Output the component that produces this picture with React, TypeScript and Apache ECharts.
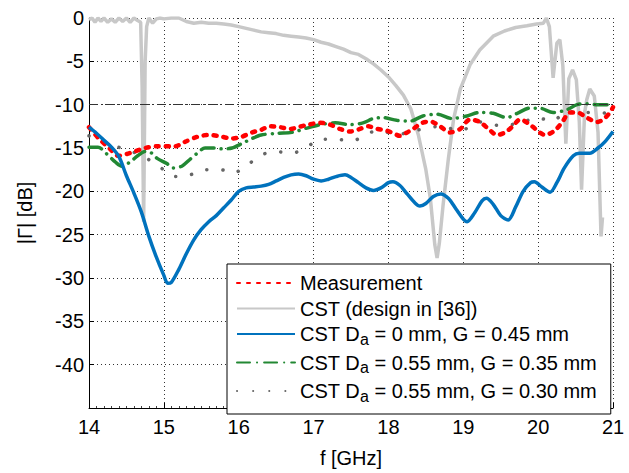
import React, { useEffect, useRef } from "react";
import * as echarts from "echarts";

const xTicks = [14, 15, 16, 17, 18, 19, 20, 21];
const yTicks = [0, -5, -10, -15, -20, -25, -30, -35, -40, -45];
const refLevel = -10;

const seriesNames = [
  "Measurement",
  "CST (design in [36])",
  "CST Da = 0 mm, G = 0.45 mm",
  "CST Da = 0.55 mm, G = 0.35 mm",
  "CST Da = 0.55 mm, G = 0.30 mm",
];

const measurement: [number, number][] = [
  [14.0, -12.6], [14.12, -13.8], [14.28, -15.1], [14.39, -15.9], [14.5, -15.7], [14.61, -15.4],
  [14.75, -15.0], [14.91, -14.8], [15.15, -14.8], [15.28, -14.3], [15.45, -13.7], [15.59, -13.5],
  [15.72, -13.6], [15.91, -13.9], [16.04, -13.7], [16.18, -13.2], [16.3, -12.9], [16.42, -12.5],
  [16.55, -12.6], [16.69, -12.8], [16.79, -12.6], [16.93, -12.3], [17.09, -12.1], [17.22, -12.3],
  [17.35, -12.8], [17.49, -13.1], [17.62, -12.8], [17.73, -12.5], [17.85, -12.8], [17.98, -13.0],
  [18.09, -13.4], [18.15, -13.6], [18.25, -13.2], [18.33, -12.8], [18.45, -12.1], [18.56, -11.95],
  [18.69, -12.5], [18.82, -13.2], [18.96, -12.8], [19.09, -11.7], [19.22, -12.0], [19.35, -12.9],
  [19.45, -13.5], [19.56, -13.2], [19.66, -12.5], [19.76, -11.7], [19.89, -12.3], [20.02, -13.2],
  [20.09, -13.5], [20.22, -13.0], [20.33, -11.9], [20.42, -10.9], [20.52, -10.9], [20.65, -11.5],
  [20.79, -12.0], [20.87, -11.7], [20.95, -11.0], [21.0, -10.3],
];

const cstDesign: [number, number][] = [
  [14.0, -0.2], [14.04, 0], [14.08, -0.5], [14.12, 0], [14.16, -0.4], [14.2, 0], [14.25, -0.5],
  [14.3, -0.1], [14.35, -0.5], [14.4, 0], [14.45, -0.4], [14.5, 0], [14.55, -0.5], [14.6, 0],
  [14.65, -0.3], [14.69, -0.5], [14.71, -8], [14.73, -23.5], [14.75, -5], [14.77, -1], [14.8, 0],
  [14.85, -0.6], [14.9, -0.1], [14.95, 0], [15.0, -0.1], [15.1, 0], [15.2, 0], [15.3, -0.4],
  [15.4, -0.6], [15.5, -0.5], [15.6, -0.6], [15.7, -0.6], [15.8, -0.7], [15.9, -0.8], [16.0, -1.0],
  [16.1, -1.2], [16.2, -1.4], [16.3, -1.6], [16.4, -1.7], [16.5, -1.8], [16.6, -2.0], [16.7, -2.1],
  [16.8, -2.2], [16.9, -2.3], [17.0, -2.5], [17.1, -2.8], [17.2, -3.0], [17.3, -3.3], [17.4, -3.6],
  [17.5, -4.0], [17.6, -4.2], [17.7, -4.7], [17.8, -5.3], [17.9, -6.0], [18.0, -6.8], [18.1, -7.8],
  [18.2, -8.9], [18.3, -10.5], [18.4, -13.5], [18.5, -17.5], [18.56, -20.8], [18.62, -26.2],
  [18.65, -27.7], [18.68, -26.0], [18.73, -21.6], [18.8, -16.3], [18.87, -11.7], [18.96, -8.2],
  [19.09, -5.4], [19.22, -3.7], [19.4, -2.1], [19.55, -1.5], [19.7, -1.1], [19.85, -0.9],
  [19.98, -0.7], [20.07, -0.6], [20.11, 0], [20.15, -1.0], [20.2, -6.9], [20.25, -2.9],
  [20.29, -2.5], [20.33, -5.5], [20.37, -14.5], [20.41, -7.0], [20.46, -6.0], [20.51, -7.1],
  [20.55, -12.0], [20.58, -19.8], [20.62, -11.0], [20.65, -9.4], [20.69, -8.2], [20.75, -9.0],
  [20.8, -13.2], [20.84, -25.2], [20.86, -23.0],
];

const cstDa0: [number, number][] = [
  [14.0, -12.6], [14.1, -13.3], [14.2, -14.1], [14.3, -14.9], [14.4, -16.0], [14.5, -18.2],
  [14.6, -20.2], [14.7, -22.4], [14.8, -25.2], [14.9, -27.6], [15.0, -29.7], [15.05, -30.6],
  [15.1, -30.5], [15.2, -29.0], [15.3, -27.2], [15.4, -25.6], [15.5, -24.4], [15.6, -23.5],
  [15.7, -22.8], [15.8, -21.9], [15.9, -21.0], [16.0, -20.0], [16.1, -19.6], [16.2, -19.5],
  [16.3, -19.4], [16.4, -19.2], [16.5, -18.8], [16.6, -18.4], [16.7, -18.1], [16.8, -18.0],
  [16.9, -18.2], [17.0, -18.6], [17.1, -18.8], [17.2, -18.6], [17.3, -18.3], [17.42, -18.1],
  [17.5, -18.4], [17.6, -19.0], [17.7, -19.6], [17.8, -19.9], [17.9, -19.6], [18.0, -19.0],
  [18.06, -18.9], [18.15, -19.3], [18.25, -20.3], [18.35, -21.3], [18.42, -21.7], [18.5, -21.4],
  [18.6, -20.6], [18.7, -20.3], [18.8, -20.8], [18.9, -22.0], [19.0, -23.2], [19.05, -23.5],
  [19.15, -22.5], [19.25, -21.1], [19.31, -20.8], [19.4, -21.5], [19.5, -22.8], [19.6, -23.3],
  [19.7, -21.8], [19.8, -20.0], [19.9, -19.0], [19.95, -18.9], [20.05, -19.5], [20.16, -20.1],
  [20.25, -19.0], [20.35, -17.3], [20.47, -15.9], [20.55, -15.6], [20.69, -15.6], [20.8, -15.0],
  [20.9, -14.2], [21.0, -13.1],
];

const cstDa055G035: [number, number][] = [
  [14.0, -14.9], [14.12, -14.9], [14.24, -15.7], [14.35, -16.6], [14.44, -17.1], [14.55, -16.6],
  [14.65, -15.9], [14.75, -15.4], [14.84, -15.6], [14.91, -16.2], [15.04, -16.8], [15.12, -17.3],
  [15.24, -17.1], [15.35, -16.3], [15.46, -15.5], [15.55, -15.0], [15.68, -15.0], [15.78, -15.1],
  [15.91, -15.0], [16.04, -14.5], [16.18, -13.9], [16.3, -13.5], [16.52, -13.3], [16.71, -13.2],
  [16.91, -12.7], [17.09, -12.3], [17.29, -12.1], [17.49, -12.3], [17.66, -12.1], [17.8, -11.6],
  [17.93, -11.5], [18.11, -11.8], [18.29, -11.9], [18.46, -11.3], [18.65, -11.1], [18.85, -11.6],
  [19.05, -11.3], [19.22, -10.9], [19.4, -11.0], [19.58, -11.5], [19.72, -11.0], [19.89, -10.4],
  [20.02, -10.4], [20.2, -10.9], [20.38, -10.6], [20.52, -10.0], [20.65, -9.9], [20.79, -10.0],
  [21.0, -10.0],
];

const cstDa055G030: [number, number][] = [
  [14.0, -13.6], [14.2, -14.2], [14.39, -14.9], [14.6, -15.5], [14.79, -16.3], [14.98, -17.4],
  [15.15, -18.3], [15.35, -18.1], [15.55, -17.5], [15.76, -17.5], [15.92, -17.9], [16.11, -17.0],
  [16.28, -15.9], [16.48, -15.4], [16.71, -15.6], [16.91, -14.9], [17.09, -14.0], [17.3, -14.0],
  [17.51, -14.2], [17.71, -13.4], [17.85, -13.0], [18.13, -13.4], [18.41, -12.9], [18.69, -12.5],
  [18.96, -13.0], [19.22, -12.0], [19.49, -12.4], [19.77, -12.1], [19.98, -11.5], [20.19, -11.9],
  [20.38, -10.8], [20.58, -10.9], [20.79, -10.9], [21.0, -11.1],
];

const FONT = "'Liberation Sans', Arial, Helvetica, sans-serif";

export default function App() {
  const ref = useRef<HTMLDivElement>(null);
  useEffect(() => {
    if (!ref.current) return;
    const chart = echarts.init(ref.current, undefined, { renderer: "svg" });
    const legendFormatter = (name: string) => name.replace(" Da ", " D{sub|a} ");
    chart.setOption({
      animation: false,
      backgroundColor: "#ffffff",
      grid: { left: 89, right: 16, top: 18, bottom: 62 },
      xAxis: {
        type: "value",
        min: xTicks[0],
        max: xTicks[xTicks.length - 1],
        interval: 1,
        name: "f [GHz]",
        nameLocation: "middle",
        nameGap: 40,
        nameTextStyle: { fontFamily: FONT, fontSize: 20, color: "#000" },
        axisLine: { show: true, onZero: false, lineStyle: { color: "#000", width: 1 } },
        axisTick: { show: true, inside: true, length: 5, lineStyle: { color: "#000" } },
        minorTick: { show: true, splitNumber: 10, length: 2, lineStyle: { color: "#444" } },
        axisLabel: { fontFamily: FONT, fontSize: 20, color: "#000", margin: 9 },
        splitLine: { show: true, lineStyle: { type: [1, 3], color: "#333", width: 1 } },
      },
      yAxis: {
        type: "value",
        min: yTicks[yTicks.length - 1],
        max: yTicks[0],
        interval: 5,
        name: "|Γ| [dB]",
        nameLocation: "middle",
        nameGap: 54,
        nameTextStyle: { fontFamily: FONT, fontSize: 20, color: "#000" },
        axisLine: { show: true, onZero: false, lineStyle: { color: "#000", width: 1 } },
        axisTick: { show: true, inside: true, length: 5, lineStyle: { color: "#000" } },
        axisLabel: {
          fontFamily: FONT,
          fontSize: 20,
          color: "#000",
          margin: 5,
          formatter: (v: number) => (v === -45 ? "" : String(v)),
        },
        splitLine: { show: true, lineStyle: { type: [1, 3], color: "#333", width: 1 } },
      },
      legend: {
        orient: "vertical",
        left: 227,
        top: 264,
        data: seriesNames,
        backgroundColor: "#fff",
        borderColor: "#000",
        borderWidth: 1,
        borderRadius: 0,
        padding: [9, 14, 10, 9],
        itemWidth: 58,
        itemHeight: 18,
        itemGap: 5.5,
        itemStyle: { opacity: 0 },
        formatter: legendFormatter,
        textStyle: {
          fontFamily: FONT,
          fontSize: 20,
          color: "#000",
          lineHeight: 20,
          rich: {
            sub: { fontFamily: FONT, fontSize: 16, color: "#000", padding: [10, 0, 0, 0] },
          },
        },
      },
      series: [
        {
          name: seriesNames[1],
          type: "line",
          data: cstDesign,
          showSymbol: false,
          symbol: "none",
          lineStyle: { color: "#c8c8c8", width: 3.5 },
          itemStyle: { color: "#c8c8c8" },
          z: 1,
        },
        {
          name: seriesNames[4],
          type: "line",
          data: cstDa055G030,
          showSymbol: false,
          symbol: "none",
          smooth: 0.3,
          lineStyle: { color: "#666", width: 3.5, type: [0.1, 16], cap: "round" },
          itemStyle: { color: "#666" },
          z: 2,
        },
        {
          name: seriesNames[3],
          type: "line",
          data: cstDa055G035,
          showSymbol: false,
          symbol: "none",
          smooth: 0.3,
          lineStyle: { color: "#228833", width: 3.5, type: [13, 7, 0.1, 7], cap: "round" },
          itemStyle: { color: "#228833" },
          z: 3,
        },
        {
          name: seriesNames[0],
          type: "line",
          data: measurement,
          showSymbol: false,
          symbol: "none",
          smooth: 0.3,
          lineStyle: { color: "#ff0000", width: 4.5, type: [3, 7], cap: "round" },
          itemStyle: { color: "#ff0000" },
          z: 4,
          markLine: {
            silent: true,
            symbol: "none",
            label: { show: false },
            lineStyle: { color: "#333", width: 1.2, type: [9, 3, 2, 3] },
            data: [{ yAxis: refLevel }],
          },
        },
        {
          name: seriesNames[2],
          type: "line",
          data: cstDa0,
          showSymbol: false,
          symbol: "none",
          smooth: 0.3,
          lineStyle: { color: "#0072bd", width: 3.5 },
          itemStyle: { color: "#0072bd" },
          z: 5,
        },
      ],
    });
    return () => chart.dispose();
  }, []);
  return <div ref={ref} style={{ width: 629, height: 473, position: "absolute", left: 0, top: 0 }} />;
}
